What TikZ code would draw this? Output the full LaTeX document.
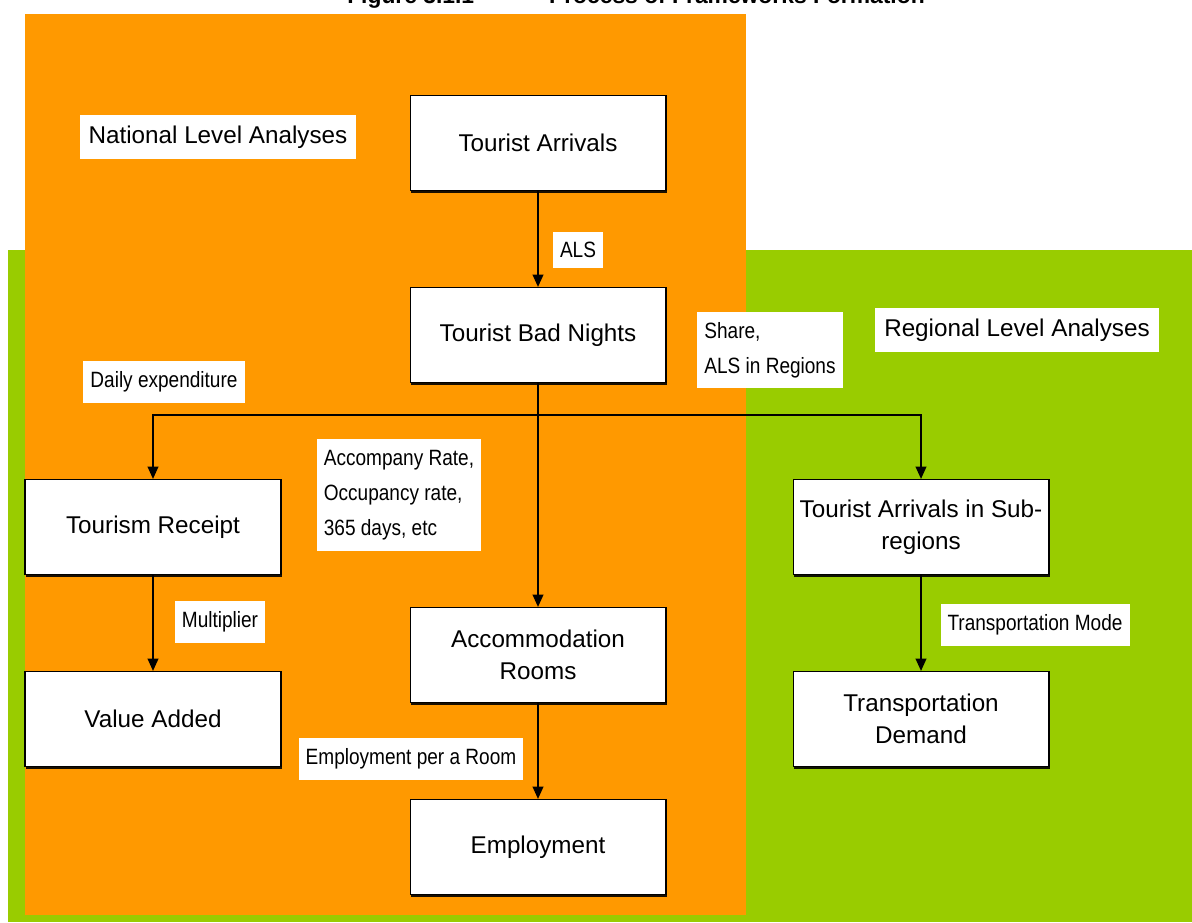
\documentclass[tikz,border=0pt]{standalone}
\usepackage{fontspec}
\setmainfont{Liberation Sans}
\newfontfamily\narrowfont{Liberation Sans}[FakeStretch=0.86]
\usetikzlibrary{arrows.meta,shadows}

\definecolor{natorange}{HTML}{FF9900}
\definecolor{reggreen}{HTML}{99CC00}

\begin{document}
\begin{tikzpicture}[x=0.02cm,y=-0.02cm,
    stage/.style={draw,fill=white,line width=0.6pt,minimum width=5.12cm,minimum height=1.9cm,
        align=center,font=\fontsize{13.8}{18}\selectfont,
        drop shadow={shadow xshift=0.4pt,shadow yshift=-1.2pt,fill=black,opacity=0.9}},
    factor/.style={fill=white,align=left,inner xsep=4pt,inner ysep=6pt,
        font=\narrowfont\fontsize{12.6}{20}\selectfont},
    level/.style={fill=white,inner xsep=5pt,inner ysep=6pt,font=\fontsize{13.8}{15}\selectfont},
    flow/.style={line width=1.1pt,-{Triangle[length=7pt,width=6pt]}}]
    \useasboundingbox(0,0)rectangle(1192,922);

    % background areas
    \fill[reggreen](8,250)rectangle(1192,922);
    \fill[natorange](25,14)rectangle(746,915);

    \node[anchor=base,font=\bfseries\fontsize{13}{15}\selectfont](title)at(636,4){Figure 3.1.1\quad --- \quad Process of Frameworks Formation};

    % boxes
    \node[stage](arrivals)at(538,143){Tourist Arrivals};
    \node[stage](nights)at(538,335){Tourist Bad Nights};
    \node[stage](receipt)at(153,527){Tourism Receipt};
    \node[stage](value)at(153,719){Value Added};
    \node[stage](rooms)at(538,655){Accommodation\\Rooms};
    \node[stage](employ)at(538,847){Employment};
    \node[stage](subreg)at(921,527){Tourist Arrivals in Sub-\\regions};
    \node[stage](transport)at(921,719){Transportation\\Demand};

    % labels
    \node[level](national)at(218,137){National Level Analyses};
    \node[level](regional)at(1017,330){Regional Level Analyses};
    \node[factor](als)at(578,250){ALS};
    \node[factor](share)at(770,350){Share,\\ALS in Regions};
    \node[factor](daily)at(164,382){Daily expenditure};
    \node[factor](rates)at(399,495){Accompany Rate,\\Occupancy rate,\\365 days, etc};
    \node[factor](multi)at(220,622){Multiplier};
    \node[factor](mode)at(1035,625){Transportation Mode};
    \node[factor](perroom)at(411,759){Employment per a Room};

    % connectors
    \coordinate(split)at(538,415);
    \draw[flow](arrivals)--(nights);
    \draw[flow](nights)--(rooms);
    \draw[flow](split)-|(receipt.north);
    \draw[flow](split)-|(subreg.north);
    \draw[flow](receipt)--(value);
    \draw[flow](rooms)--(employ);
    \draw[flow](subreg)--(transport);
\end{tikzpicture}
\end{document}
